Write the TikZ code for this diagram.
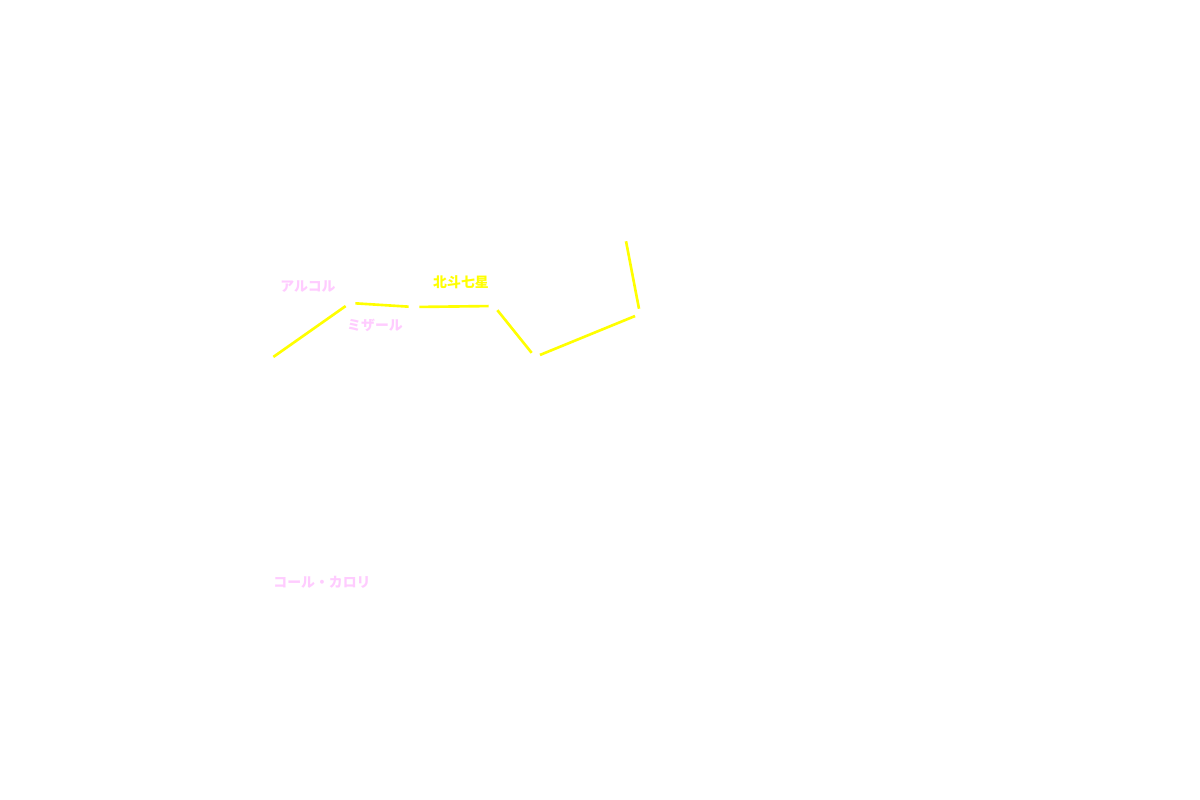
\documentclass[tikz,border=0pt]{standalone}
\usepackage{fontspec}
\newfontfamily\jpfont{Noto Sans CJK JP}
\definecolor{starpink}{HTML}{FFCCFF}
\definecolor{staryellow}{HTML}{FFFF00}
\begin{document}
\begin{tikzpicture}[x=0.02cm,y=-0.02cm,
  starr/.style={circle,fill=white,draw=none,inner sep=0pt,minimum size=0.2cm},
  link/.style={draw=staryellow,line width=1.5pt},
  lbl/.style={text=starpink,font=\jpfont\bfseries\fontsize{7.9}{9}\selectfont,inner sep=0pt},
  title/.style={text=staryellow,font=\jpfont\bfseries\fontsize{7.9}{9}\selectfont,inner sep=0pt}]
\useasboundingbox[fill=white] (0,0) rectangle (1200,800);
\node[starr] (s1) at (269,360) {};
\node[starr] (s2) at (350,303) {};
\node[starr] (s3) at (414,307) {};
\node[starr] (s4) at (494,306) {};
\node[starr] (s5) at (535,357) {};
\node[starr] (s6) at (640,314) {};
\node[starr] (s7) at (625,236) {};
\draw[link] (s1) -- (s2);
\draw[link] (s2) -- (s3);
\draw[link] (s3) -- (s4);
\draw[link] (s4) -- (s5);
\draw[link] (s5) -- (s6);
\draw[link] (s6) -- (s7);
\node[lbl] (alcor) at (308,287) {アルコル};
\node[lbl] (mizar) at (375,325) {ミザール};
\node[title] (dipper) at (461,282) {北斗七星};
\node[lbl] (cor) at (322,582) {コール・カロリ};
\end{tikzpicture}
\end{document}
